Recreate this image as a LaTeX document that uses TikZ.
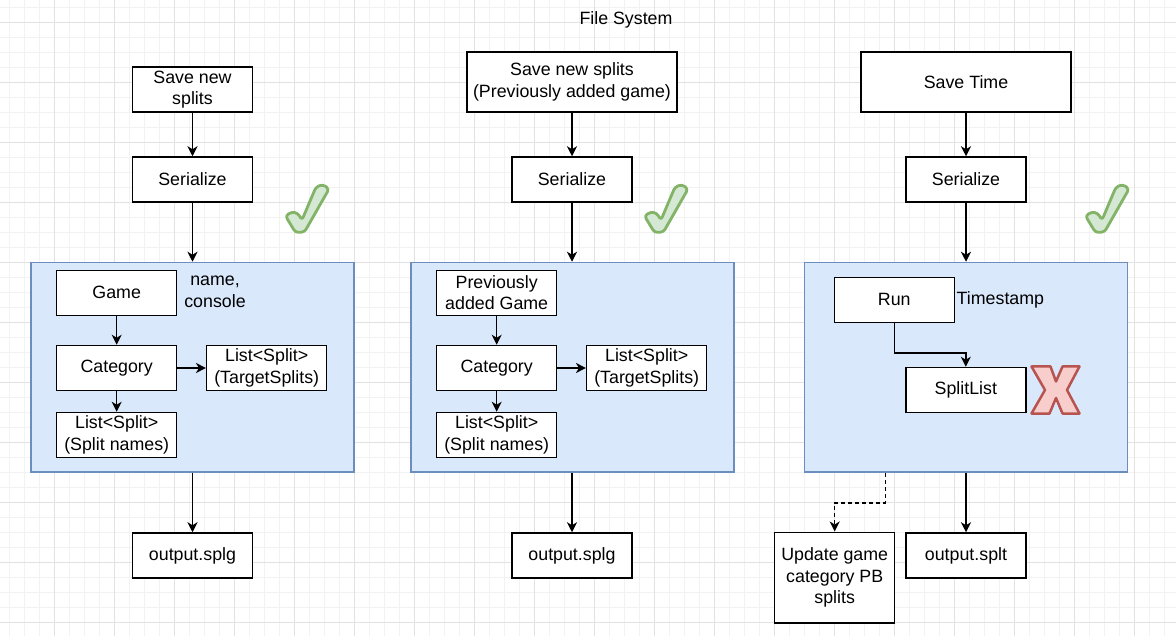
\documentclass[tikz,border=0pt]{standalone}
\usepackage{fontspec}
\setmainfont{Liberation Sans}
\usetikzlibrary{arrows.meta}
\newcommand\dfs{\fontsize{17.8}{21.5}\selectfont}
\definecolor{gridminor}{HTML}{F2F2F2}
\definecolor{gridmajor}{HTML}{E2E2E2}
\definecolor{contfill}{HTML}{DAE8FC}
\definecolor{contdraw}{HTML}{6C8EBF}
\definecolor{okfill}{HTML}{D5E8D4}
\definecolor{okdraw}{HTML}{82B366}
\definecolor{nofill}{HTML}{F8CECC}
\definecolor{nodraw}{HTML}{B85450}
\tikzset{
  box/.style={draw=black, fill=white, line width=1.5pt, font=\dfs, align=center, inner sep=0pt, minimum width=120pt, minimum height=45pt},
  cont/.style={draw=contdraw, fill=contfill, line width=1.5pt, inner sep=0pt, minimum width=323pt, minimum height=209.5pt},
  lbl/.style={font=\dfs, align=center, inner sep=0pt},
  arr/.style={line width=1.5pt, -{Stealth[length=10pt,width=10pt,inset=3pt]}},
  okmark/.style={draw=okdraw, fill=okfill, line width=2.8pt, rounded corners=3pt, line join=round},
  nomark/.style={draw=nodraw, fill=nofill, line width=2.5pt, line join=round},
}
\begin{document}
\begin{tikzpicture}[x=1pt,y=-1pt]
\useasboundingbox (0,0) rectangle (1176,636);
\fill[white] (0,0) rectangle (1176,636);
% grid
\foreach \k in {0,...,78} {\draw[gridminor, line width=0.8pt] ({9.5+15*\k},0) -- ({9.5+15*\k},636);}
\foreach \k in {0,...,42} {\draw[gridminor, line width=0.8pt] (0,{7.3+15*\k}) -- (1176,{7.3+15*\k});}
\foreach \k in {0,...,18} {\draw[gridmajor, line width=0.8pt] ({54.5+60*\k},0) -- ({54.5+60*\k},636);}
\foreach \k in {0,...,10} {\draw[gridmajor, line width=0.8pt] (0,{22.3+60*\k}) -- (1176,{22.3+60*\k});}

\node[lbl] (title) at (626,20) {File System};

% ---------- left column ----------
\node[box] (s1) at (192.5,89.5) {Save new\\splits};
\node[box] (z1) at (192.5,179.5) {Serialize};
\node[cont] (c1) at (192.5,367.25) {};
\node[box] (g1) at (116.7,292.8) {Game};
\node[lbl] (n1) at (215,292) {name,\\console};
\node[box] (k1) at (116.7,368) {Category};
\node[box] (t1) at (266.7,368) {List<Split>\\(TargetSplits)};
\node[box] (l1) at (116.7,435) {List<Split>\\(Split names)};
\node[box] (o1) at (192.5,555.5) {output.splg};
\draw[arr] (s1) -- (z1);
\draw[arr] (z1) -- (c1);
\draw[arr] (g1) -- (k1);
\draw[arr] (k1) -- (t1);
\draw[arr] (k1) -- (l1);
\draw[arr] (c1) -- (o1);

% ---------- middle column ----------
\node[box, minimum width=210pt, minimum height=60pt] (s2) at (572,82) {Save new splits\\(Previously added game)};
\node[box] (z2) at (572,179.5) {Serialize};
\node[cont] (c2) at (572.5,367.25) {};
\node[box] (g2) at (496.7,292.8) {Previously\\added Game};
\node[box] (k2) at (496.7,368) {Category};
\node[box] (t2) at (646.7,368) {List<Split>\\(TargetSplits)};
\node[box] (l2) at (496.7,435) {List<Split>\\(Split names)};
\node[box] (o2) at (572,555.5) {output.splg};
\draw[arr] (s2) -- (z2);
\draw[arr] (z2) -- (z2 |- c2.north);
\draw[arr] (g2) -- (k2);
\draw[arr] (k2) -- (t2);
\draw[arr] (k2) -- (l2);
\draw[arr] (o2 |- c2.south) -- (o2);

% ---------- right column ----------
\node[box, minimum width=210pt, minimum height=60pt] (s3) at (966,82) {Save Time};
\node[box] (z3) at (966,179.5) {Serialize};
\node[cont] (c3) at (965.8,367.25) {};
\node[box] (r3) at (894.3,299.8) {Run};
\node[lbl, anchor=west] (ts) at (956.5,299.5) {Timestamp};
\node[box] (sl) at (965.8,390) {SplitList};
\node[box] (o3) at (966,555.5) {output.splt};
\node[box, minimum height=90.5pt] (u3) at (834.7,577.5) {Update game\\category PB\\splits};
\draw[arr] (s3) -- (z3);
\draw[arr] (z3) -- (z3 |- c3.north);
\draw[arr] (r3.south) -- ++(0,30) -| (sl.north);
\draw[arr] (o3 |- c3.south) -- (o3);
\draw[arr, dash pattern=on 4pt off 3pt] ([xshift=-80.5pt]c3.south) -- ++(0,30) -| (u3.north);

% ---------- check marks ----------
\foreach \dx in {0,359,800} {
  \begin{scope}[xshift=\dx pt]
    \path[okmark] (285.5,216) -- (291.5,212) -- (297.5,213) -- (302,220) -- (316,187) -- (323,184.5) -- (329,189) -- (304.5,232) -- (295.5,232.5) -- cycle;
  \end{scope}
}

% ---------- X mark ----------
\path[nomark] (1031.5,366.5) -- (1050.5,366.5) -- (1056,381.5) -- (1062.5,366.5) -- (1079.5,366.5) -- (1067,390) -- (1079.5,413.5) -- (1062.5,413.5) -- (1056,398) -- (1049.5,413.5) -- (1031.5,413.5) -- (1045,390) -- cycle;
\end{tikzpicture}
\end{document}
